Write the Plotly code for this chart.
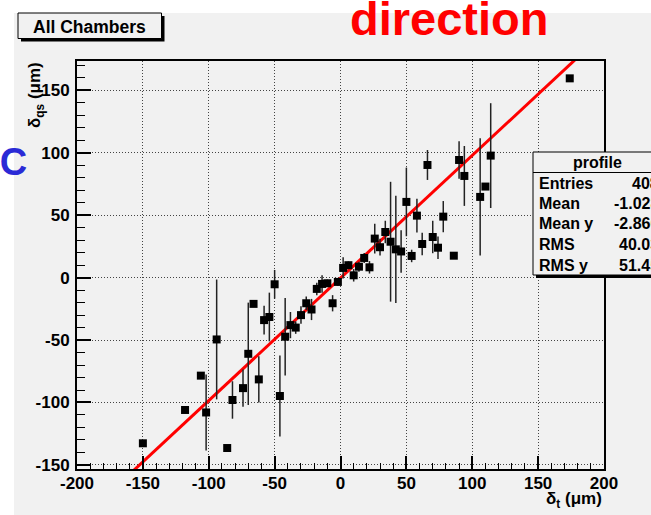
import plotly.graph_objects as go

# ---- data ----
bin_x = [-150, -118, -106, -102, -94, -86, -82, -74, -70, -66, -62, -58, -54, -50,
         -46, -42, -38, -34, -30, -26, -22, -18, -14, -10, -6, -2, 2, 6, 10, 14,
         18, 22, 26, 30, 34, 38, 42, 46, 50, 54, 58, 62, 66, 70, 74, 78, 86, 90,
         94, 106, 110, 114, 174]
bin_y = [-132.7, -106, -78.5, -108, -49.5, -136.5, -98, -88.5, -61, -21, -81.5, -34,
         -31.5, -5.3, -94.8, -47.3, -38, -40, -30, -20.5, -25.5, -9, -5, -4.5, -20.5,
         -3.4, 7.8, 10, 1.9, 8.8, 15.8, 8.3, 31.3, 24.4, 36.6, 28.8, 22.7, 21, 60.7,
         17.4, 49.7, 27, 90.3, 32.6, 24, 48.9, 17.6, 94.3, 81.5, 64.7, 73, 97.8, 159.7]
bin_err = [0, 0, 1, 30.5, 48, 0, 15, 15, 41, 1, 18.5, 11.5, 19.5, 11.5, 32.5, 31,
           10.5, 5, 7, 5.5, 8.5, 5, 7, 3, 6.5, 3, 8.5, 3, 5, 4, 4, 5, 12, 6.7, 9,
           48, 43, 17, 27.5, 5, 13.5, 9, 12, 13, 9, 12.5, 0, 15, 24, 47, 0, 42, 0]

fit_x = [-160, 180]
fit_y = [-157.4, 176.5]

x_ticks = [-200, -150, -100, -50, 0, 50, 100, 150, 200]
y_ticks = [-150, -100, -50, 0, 50, 100, 150]

stat_names = ["Entries", "Mean", "Mean y", "RMS", "RMS y"]
stat_values = ["408", "-1.028", "-2.866", "40.03", "51.45"]

# ---- geometry helpers (pixel -> paper) ----
W_FIG, H_FIG = 651, 515
ML, MR, MT, MB = 77, 47, 61, 46
PW = W_FIG - ML - MR
PH = H_FIG - MT - MB


def px(x):
    return (x - ML) / PW


def py(y):
    return (H_FIG - MB - y) / PH


GRAY = "#f1f1f1"
FONT = "Liberation Sans, Arial, Helvetica, sans-serif"

fig = go.Figure()

fig.add_trace(go.Scatter(
    x=fit_x, y=fit_y, mode="lines",
    line=dict(color="#ff0000", width=3),
    hoverinfo="skip", showlegend=False,
))

fig.add_trace(go.Scatter(
    x=bin_x, y=bin_y, mode="markers",
    marker=dict(symbol="square", size=8, color="black"),
    error_y=dict(type="data", array=bin_err, visible=True, color="#222222",
                 thickness=1.5, width=0),
    showlegend=False,
))

axis_common = dict(
    showline=True, linecolor="black", linewidth=2, mirror=True,
    ticks="inside", tickcolor="black", tickwidth=1.5,
    showgrid=True, gridcolor="#444444", gridwidth=1, griddash="1px,2px",
    zeroline=False,
    tickfont=dict(family=FONT, size=17, color="black", weight="bold"),
)

fig.update_xaxes(
    range=[-200, 200], tickmode="array", tickvals=x_ticks,
    ticktext=[str(v) for v in x_ticks], ticklen=13,
    minor=dict(ticks="inside", ticklen=6, dtick=10, tickcolor="black",
               tickwidth=1, showgrid=False),
    ticklabelstandoff=-2,
    **axis_common,
)
fig.update_yaxes(
    range=[-153.3, 173.6], tickmode="array", tickvals=y_ticks,
    ticktext=[str(v) for v in y_ticks], ticklen=14,
    minor=dict(ticks="inside", ticklen=8, dtick=10, tickcolor="black",
               tickwidth=1, showgrid=False),
    ticklabelstandoff=2,
    **axis_common,
)

shapes = []
# gray canvas (white strips at top and left)
shapes.append(dict(type="rect", xref="paper", yref="paper", layer="below",
                   x0=px(14), x1=px(720), y0=py(13), y1=py(600),
                   fillcolor=GRAY, line=dict(width=0)))
# title box shadow + box
shapes.append(dict(type="rect", xref="paper", yref="paper",
                   x0=px(21), x1=px(164.5), y0=py(16), y1=py(41.5),
                   fillcolor="black", line=dict(width=0)))
shapes.append(dict(type="rect", xref="paper", yref="paper",
                   x0=px(18), x1=px(161.5), y0=py(13), y1=py(38.5),
                   fillcolor=GRAY, line=dict(color="black", width=1)))
# stats box shadow + box
shapes.append(dict(type="rect", xref="paper", yref="paper",
                   x0=px(536), x1=px(720), y0=py(155), y1=py(278),
                   fillcolor="black", line=dict(width=0)))
shapes.append(dict(type="rect", xref="paper", yref="paper",
                   x0=px(533), x1=px(717), y0=py(152), y1=py(275),
                   fillcolor=GRAY, line=dict(color="black", width=1)))
shapes.append(dict(type="line", xref="paper", yref="paper",
                   x0=px(533), x1=px(717), y0=py(172.5), y1=py(172.5),
                   line=dict(color="black", width=1)))

annotations = []
annotations.append(dict(text="All Chambers", xref="paper", yref="paper",
                        x=px(89), y=py(26.5), xanchor="center", yanchor="middle",
                        showarrow=False,
                        font=dict(family=FONT, size=17.5, color="black", weight="bold")))
annotations.append(dict(text="direction", xref="paper", yref="paper",
                        x=px(348), y=py(19), xanchor="left", yanchor="middle",
                        showarrow=False,
                        font=dict(family=FONT, size=47, color="#ff0000", weight="bold")))
annotations.append(dict(text="CSC", xref="paper", yref="paper",
                        x=px(29), y=py(162), xanchor="right", yanchor="middle",
                        showarrow=False,
                        font=dict(family=FONT, size=38, color="#2a2ad6", weight="bold")))
annotations.append(dict(text="δ<sub>qs</sub> (μm)", xref="paper", yref="paper",
                        x=px(36), y=py(60), xanchor="center", yanchor="top",
                        textangle=-90, showarrow=False,
                        font=dict(family=FONT, size=17, color="black", weight="bold")))
annotations.append(dict(text="δ<sub>t</sub> (μm)", xref="paper", yref="paper",
                        x=px(604), y=py(500), xanchor="right", yanchor="middle",
                        showarrow=False,
                        font=dict(family=FONT, size=17, color="black", weight="bold")))
annotations.append(dict(text="profile", xref="paper", yref="paper",
                        x=px(597), y=py(162), xanchor="center", yanchor="middle",
                        showarrow=False,
                        font=dict(family=FONT, size=16, color="black", weight="bold")))
row_y = [183, 203.5, 223.5, 245, 265]
for name, val, yy in zip(stat_names, stat_values, row_y):
    annotations.append(dict(text=name, xref="paper", yref="paper",
                            x=px(537), y=py(yy), xanchor="left", yanchor="middle",
                            showarrow=False,
                            font=dict(family=FONT, size=16, color="black", weight="bold")))
    annotations.append(dict(text=val, xref="paper", yref="paper",
                            x=px(661), y=py(yy), xanchor="right", yanchor="middle",
                            showarrow=False,
                            font=dict(family=FONT, size=16, color="black", weight="bold")))

fig.update_layout(
    width=W_FIG, height=H_FIG,
    margin=dict(l=ML, r=MR, t=MT, b=MB, pad=0),
    paper_bgcolor="white", plot_bgcolor=GRAY,
    shapes=shapes, annotations=annotations,
    showlegend=False,
)

fig.write_html(
    "out.html",
    config={"displayModeBar": False},
    post_script="document.body.style.margin='0';document.body.style.overflow='hidden';",
)
